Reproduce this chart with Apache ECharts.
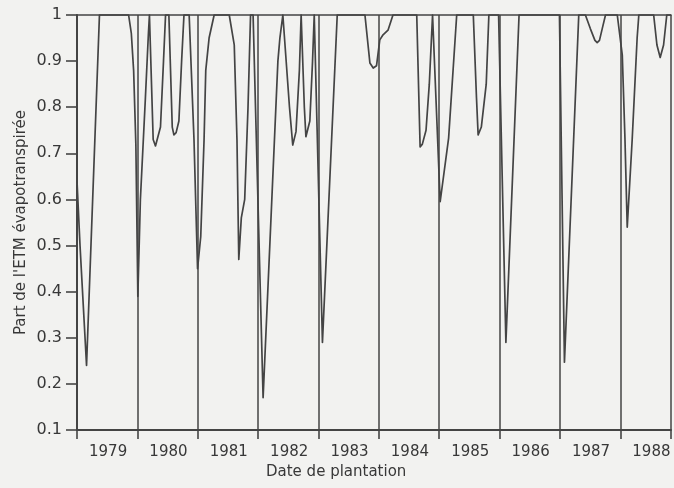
<!DOCTYPE html>
<html>
<head>
<meta charset="utf-8">
<title>Part de l'ETM évapotranspirée</title>
<script src="https://cdn.jsdelivr.net/npm/echarts@6/dist/echarts.min.js"></script>
<style>
  html, body { margin: 0; padding: 0; background: #f2f2f0; }
  #chart { width: 674px; height: 488px; }
</style>
</head>
<body>
<div id="chart"></div>
<script>
// Planting date expressed as a decimal year (1979.0 = start of the 1979 season)
const plantingDates = [
  1979.000, 1979.050, 1979.158, 1979.372,
  1979.855, 1979.900, 1979.938, 1979.975, 1980.008, 1980.050, 1980.133, 1980.183, 1980.200,
  1980.262, 1980.300, 1980.328, 1980.383, 1980.433, 1980.467,
  1980.522, 1980.578, 1980.605, 1980.642, 1980.688, 1980.733, 1980.772,
  1980.858, 1980.938, 1980.997, 1981.050, 1981.105, 1981.133, 1981.188, 1981.272,
  1981.522, 1981.605, 1981.650, 1981.680, 1981.722, 1981.778, 1981.833, 1981.875,
  1981.917, 1982.083, 1982.328, 1982.361, 1982.410,
  1982.438, 1982.520, 1982.574, 1982.628, 1982.684, 1982.713,
  1982.738, 1982.766, 1982.792, 1982.857, 1982.902, 1982.930,
  1982.951, 1983.066, 1983.311,
  1983.770, 1983.852, 1983.907, 1983.962, 1984.016, 1984.070, 1984.152, 1984.234,
  1984.628, 1984.684, 1984.721, 1984.782, 1984.836, 1984.890,
  1984.946, 1985.016, 1985.156, 1985.290,
  1985.565, 1985.618, 1985.645, 1985.698, 1985.779, 1985.823,
  1985.984, 1986.105, 1986.323,
  1986.992, 1987.075, 1987.312,
  1987.422, 1987.505, 1987.580, 1987.617, 1987.655, 1987.700, 1987.755,
  1987.950, 1988.033, 1988.077, 1988.115, 1988.197, 1988.279, 1988.307,
  1988.553, 1988.607, 1988.661, 1988.717, 1988.770, 1988.840
];

// Fraction of maximum evapotranspiration (ETM) actually transpired
const etmRatios = [
  0.64, 0.50, 0.24, 1.00,
  1.00, 0.96, 0.88, 0.72, 0.39, 0.60, 0.82, 0.96, 1.00,
  0.73, 0.716, 0.715, 0.757, 0.90, 1.00,
  1.00, 0.757, 0.74, 0.745, 0.77, 0.90, 1.00,
  1.00, 0.73, 0.45, 0.52, 0.73, 0.88, 0.95, 1.00,
  1.00, 0.935, 0.73, 0.47, 0.56, 0.60, 0.80, 1.00,
  1.00, 0.17, 0.90, 0.95, 1.00,
  1.00, 0.80, 0.718, 0.747, 0.88, 1.00,
  1.00, 0.80, 0.736, 0.77, 0.90, 1.00,
  1.00, 0.29, 1.00,
  1.00, 0.896, 0.885, 0.89, 0.946, 0.957, 0.967, 1.00,
  1.00, 0.714, 0.72, 0.75, 0.85, 1.00,
  0.82, 0.595, 0.733, 1.00,
  1.00, 0.82, 0.74, 0.757, 0.85, 1.00,
  1.00, 0.29, 1.00,
  1.00, 0.247, 1.00,
  1.00, 0.97, 0.945, 0.94, 0.945, 0.97, 1.00,
  1.00, 0.913, 0.733, 0.54, 0.73, 0.95, 1.00,
  1.00, 0.935, 0.908, 0.935, 1.00, 1.00
];

const yearLabels = ['1979', '1980', '1981', '1982', '1983', '1984', '1985', '1986', '1987', '1988'];
const ratioTicks = [0.1, 0.2, 0.3, 0.4, 0.5, 0.6, 0.7, 0.8, 0.9, 1];

const ink = '#444444';
const textInk = '#383838';
const font = '"DejaVu Sans", sans-serif';

const seriesData = plantingDates.map((d, i) => [d, etmRatios[i]]);

const chart = echarts.init(document.getElementById('chart'), null, { renderer: 'canvas' });

chart.setOption({
  backgroundColor: '#f2f2f0',
  animation: false,
  title: {
    text: 'Date de plantation',
    left: 261,
    top: 460,
    textStyle: { fontFamily: font, fontSize: 15, fontWeight: 'normal', color: textInk }
  },
  grid: { left: 77, right: 0, top: 15, bottom: 58, containLabel: false },
  xAxis: [
    {
      type: 'value',
      min: 1979,
      max: 1988.84,
      interval: 1,
      position: 'bottom',
      axisLine: { show: true, onZero: false, lineStyle: { color: ink, width: 2 } },
      axisTick: { show: true, inside: false, length: 9, lineStyle: { color: ink, width: 1.6 } },
      splitLine: { show: true, lineStyle: { color: ink, width: 1.5 } },
      axisLabel: {
        show: true,
        margin: 15,
        align: 'left',
        padding: [0, 0, 0, 12],
        fontFamily: font,
        fontSize: 15,
        color: textInk,
        formatter: v => {
          const idx = Math.round(v - 1979);
          return yearLabels[idx] !== undefined ? yearLabels[idx] : '';
        }
      }
    },
    {
      type: 'value',
      min: 1979,
      max: 1988.84,
      position: 'top',
      axisLine: { show: true, onZero: false, lineStyle: { color: ink, width: 1.6 } },
      axisTick: { show: false },
      axisLabel: { show: false },
      splitLine: { show: false }
    }
  ],
  yAxis: {
    type: 'value',
    min: 0.1,
    max: 1,
    interval: 0.1,
    name: "Part de l'ETM évapotranspirée",
    nameLocation: 'middle',
    nameGap: 48,
    nameMoveOverlap: false,
    nameTextStyle: { fontFamily: font, fontSize: 15, color: textInk },
    axisLine: { show: true, onZero: false, lineStyle: { color: ink, width: 2 } },
    axisTick: { show: true, inside: false, length: 11, lineStyle: { color: ink, width: 1.6 } },
    splitLine: { show: false },
    axisLabel: {
      margin: 15,
      fontFamily: font,
      fontSize: 16,
      color: textInk,
      formatter: v => {
        const r = Math.round(v * 10) / 10;
        const hit = ratioTicks.find(t => Math.abs(t - r) < 1e-6);
        return hit !== undefined ? String(hit) : '';
      }
    }
  },
  series: [
    {
      type: 'line',
      xAxisIndex: 0,
      data: seriesData,
      showSymbol: false,
      symbol: 'none',
      smooth: false,
      clip: false,
      lineStyle: { color: ink, width: 1.7, join: 'round' }
    }
  ]
});
</script>
</body>
</html>
